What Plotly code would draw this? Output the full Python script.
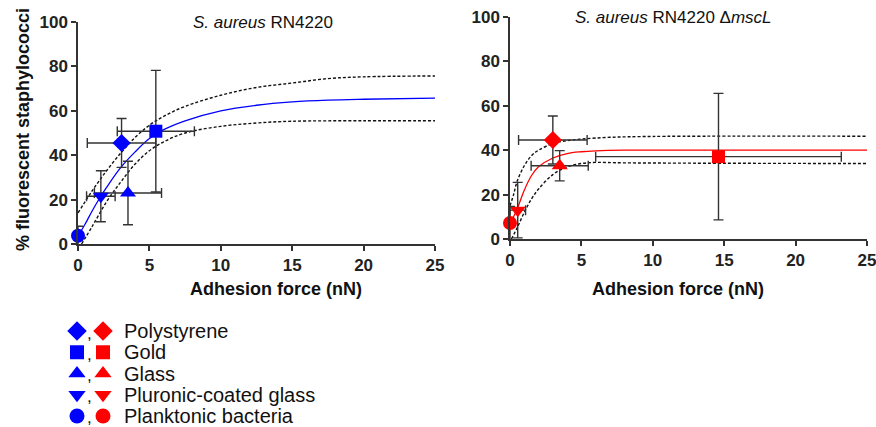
import plotly.graph_objects as go

W, H = 876, 427
FONT = "Arial, Liberation Sans, sans-serif"
BLUE = "#0000FF"
RED = "#FF0000"
BAR = "#333333"

categories = ["Polystyrene", "Gold", "Glass", "Pluronic-coated glass", "Planktonic bacteria"]
symbols = ["diamond", "square", "triangle-up", "triangle-down", "circle"]

# Left panel: S. aureus RN4220
wt_x = [3.05, 5.45, 3.5, 1.6, 0.0]
wt_xerr = [2.4, 2.7, 2.35, 1.0, 0.0]
wt_y = [45.5, 50.8, 23.0, 21.5, 3.7]
wt_yerr = [11.0, 27.4, 14.3, 11.5, 4.3]

wt_fit_x = [0, 0.5, 1, 1.5, 2, 3, 4, 5, 6, 7.5, 10, 12.5, 15, 17.5, 20, 25]
wt_fit_y = [3.5, 9, 15, 20.5, 25.5, 34.5, 41.5, 47.5, 51.5, 55.5, 60, 62.5, 64, 64.8, 65.2, 65.7]
wt_up_x = [0, 1, 2, 3, 4, 5, 6, 7.5, 10, 12.5, 15, 17.5, 20, 25]
wt_up_y = [14, 24, 33, 41, 48, 53.5, 57.5, 62, 67, 70.5, 72.5, 74.5, 75.3, 75.7]
wt_lo_x = [0.25, 1, 2, 3, 4, 5, 6, 7.5, 10, 12.5, 15, 20, 25]
wt_lo_y = [0, 8, 19, 28, 36, 42, 46, 50, 53, 54.5, 55.3, 55.5, 55.5]

# Right panel: S. aureus RN4220 ΔmscL
ko_x = [3.0, 14.6, 3.48, 0.54, 0.0]
ko_xerr = [2.4, 8.6, 2.0, 0.55, 0.0]
ko_y = [44.6, 37.1, 33.0, 13.0, 7.2]
ko_yerr = [10.8, 28.5, 6.8, 12.5, 7.5]

ko_fit_x = [0, 0.25, 0.5, 1, 1.5, 2, 3, 4, 5, 6, 8, 25]
ko_fit_y = [7, 10, 13.5, 22, 28.5, 32.5, 36.5, 38.5, 39.3, 39.7, 40, 40]
ko_up_x = [0, 0.25, 0.5, 1, 1.5, 2, 3, 4, 5, 7, 10, 25]
ko_up_y = [15, 20, 26, 33, 37.5, 40, 43, 44.3, 45, 45.8, 46.2, 46.3]
ko_lo_x = [0.1, 0.5, 1, 1.5, 2, 3, 4, 5, 6, 8, 25]
ko_lo_y = [0, 5, 12, 18, 22.5, 29, 32.5, 34, 34.5, 34.3, 34]

x_ticks = [0, 5, 10, 15, 20, 25]
y_ticks = [0, 20, 40, 60, 80, 100]

fig = go.Figure()


def px_x(p):
    return p / W


def px_y(p):
    return 1 - p / H


def add_panel(xa, ya, fx, fy, ux, uy, lx, ly, px, pxe, py, pye, color):
    for bx, by in [(ux, uy), (lx, ly)]:
        fig.add_trace(go.Scatter(x=bx, y=by, mode="lines", xaxis=xa, yaxis=ya,
                                 line=dict(color="#111", width=1.4, dash="3px,2px"), line_shape="spline",
                                 showlegend=False, hoverinfo="skip"))
    fig.add_trace(go.Scatter(x=fx, y=fy, mode="lines", xaxis=xa, yaxis=ya, line=dict(color=color, width=1.3),
                             line_shape="spline", showlegend=False))
    for i in range(len(categories)):
        fig.add_trace(go.Scatter(
            x=[px[i]], y=[py[i]], mode="markers", xaxis=xa, yaxis=ya, name=categories[i],
            marker=dict(symbol=symbols[i], size=14 if symbols[i] != "square" else 13, color=color, line=dict(width=0)),
            error_x=dict(type="data", array=[pxe[i]], visible=pxe[i] > 0, color=BAR, thickness=1.4, width=5),
            error_y=dict(type="data", array=[pye[i]], visible=True, color=BAR, thickness=1.4, width=5),
            cliponaxis=False, showlegend=False))


add_panel("x", "y", wt_fit_x, wt_fit_y, wt_up_x, wt_up_y, wt_lo_x, wt_lo_y, wt_x, wt_xerr, wt_y, wt_yerr, BLUE)
add_panel("x2", "y2", ko_fit_x, ko_fit_y, ko_up_x, ko_up_y, ko_lo_x, ko_lo_y, ko_x, ko_xerr, ko_y, ko_yerr, RED)

# Legend markers (hidden axis)
rows = list(range(len(categories)))
for j, col in enumerate([BLUE, RED]):
    for i in rows:
        fig.add_trace(go.Scatter(x=[j], y=[i], mode="markers", xaxis="x3", yaxis="y3",
                                 marker=dict(symbol=symbols[i], size=15 if symbols[i] != "square" else 14, color=col),
                                 showlegend=False, hoverinfo="skip", cliponaxis=False))

axis_common = dict(range=[0, 25], tickvals=x_ticks, ticktext=[f"<b>{v}</b>" for v in x_ticks],
                   showgrid=False, zeroline=False, showline=True, automargin=False,
                   linecolor=BAR, linewidth=1.5, ticks="outside", ticklen=5, tickwidth=1.5, tickcolor=BAR,
                   ticklabeloverflow="allow",
                   tickfont=dict(family=FONT, size=17, color="#222"))
yaxis_common = dict(range=[0, 100], tickvals=y_ticks, ticktext=[f"<b>{v}</b>" for v in y_ticks],
                    showgrid=False, zeroline=False, showline=True, automargin=False,
                    linecolor=BAR, linewidth=1.5, ticks="outside", ticklen=5, tickwidth=1.5, tickcolor=BAR,
                    ticklabeloverflow="allow",
                    tickfont=dict(family=FONT, size=17, color="#222"))

fig.update_layout(
    width=W, height=H, margin=dict(l=0, r=0, t=0, b=0, autoexpand=False),
    paper_bgcolor="white", plot_bgcolor="white", showlegend=False,
    xaxis=dict(domain=[px_x(78), px_x(435)], anchor="y", **axis_common),
    yaxis=dict(domain=[px_y(244), px_y(22)], anchor="x", **yaxis_common),
    xaxis2=dict(domain=[px_x(510), px_x(867)], anchor="y2", **axis_common),
    yaxis2=dict(domain=[px_y(239), px_y(17)], anchor="x2", **yaxis_common),
    xaxis3=dict(domain=[px_x(64), px_x(116)], anchor="y3", range=[-0.5, 1.5], visible=False, automargin=False),
    yaxis3=dict(domain=[px_y(426.6), px_y(320.4)], anchor="x3", range=[4.5, -0.5], visible=False, automargin=False),
)

ann = []
ann.append(dict(text="<i>S. aureus</i> RN4220", x=px_x(263), y=px_y(22), xref="paper", yref="paper",
                showarrow=False, font=dict(family=FONT, size=17, color="#111"), xanchor="center", yanchor="middle"))
ann.append(dict(text="<i>S. aureus</i> RN4220 Δ<i>mscL</i>", x=px_x(673), y=px_y(17), xref="paper", yref="paper",
                showarrow=False, font=dict(family=FONT, size=17, color="#111"), xanchor="center", yanchor="middle"))
for cx in (276, 678):
    ann.append(dict(text="<b>Adhesion force (nN)</b>", x=px_x(cx), y=px_y(289), xref="paper", yref="paper",
                    showarrow=False, font=dict(family=FONT, size=18, color="#111"), xanchor="center", yanchor="middle"))
ann.append(dict(text="<b>% fluorescent staphylococci</b>", x=px_x(23), y=px_y(130), xref="paper", yref="paper",
                showarrow=False, textangle=-90, font=dict(family=FONT, size=18, color="#111"), xanchor="center", yanchor="middle"))
for i in rows:
    ann.append(dict(text=categories[i], x=px_x(122), y=i, xref="paper", yref="y3", showarrow=False,
                    font=dict(family=FONT, size=20, color="#111"), xanchor="left", yanchor="middle"))
    ann.append(dict(text=",", x=px_x(89.5), y=i, xref="paper", yref="y3", yshift=-2, showarrow=False,
                    font=dict(family=FONT, size=17, color="#111"), xanchor="center", yanchor="middle"))
fig.update_layout(annotations=ann)

fig.write_html("out.html", config={"displayModeBar": False},
               post_script="document.body.style.margin='0px';document.body.style.padding='0px';")
